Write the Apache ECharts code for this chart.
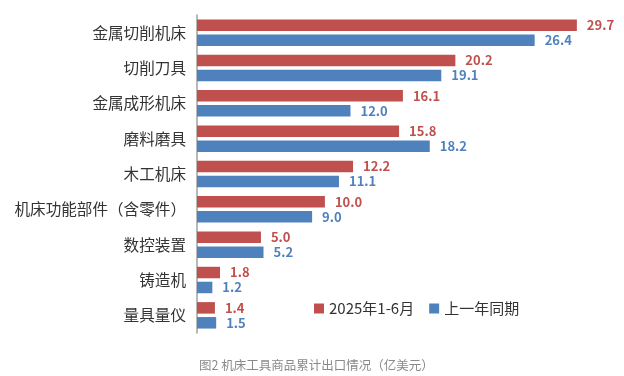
<!DOCTYPE html>
<html><head><meta charset="utf-8">
<script src="https://cdn.jsdelivr.net/npm/echarts@6/dist/echarts.min.js"></script>
<style>html,body{margin:0;padding:0;background:#fff}#c{width:624px;height:376px}</style>
</head><body><div id="c"></div>
<script>
const categories = ['金属切削机床','切削刀具','金属成形机床','磨料磨具','木工机床','机床功能部件（含零件）','数控装置','铸造机','量具量仪'];
const current = [29.7, 20.2, 16.1, 15.8, 12.2, 10.0, 5.0, 1.8, 1.4];
const previous = [26.4, 19.1, 12.0, 18.2, 11.1, 9.0, 5.2, 1.2, 1.5];
const seriesNames = ['2025年1-6月', '上一年同期'];
const caption = '图2 机床工具商品累计出口情况（亿美元）';
const RED = '#C0504D', BLUE = '#4F81BD';
const FONT = '"Noto Sans CJK SC", "Noto Sans", sans-serif';
const chart = echarts.init(document.getElementById('c'));
chart.setOption({
  animation: false,
  textStyle: { fontFamily: FONT },
  title: { text: caption, left: 194, top: 354, textStyle: { fontSize: 12.5, color: '#8a8a8a', fontWeight: 'normal', fontFamily: FONT } },
  legend: { left: 309, top: 296, icon: 'rect', itemWidth: 10, itemHeight: 10, itemGap: 15,
    textStyle: { fontSize: 15, color: '#333', fontFamily: FONT }, data: seriesNames },
  grid: { left: 197, top: 15, width: 383.7, height: 318, containLabel: false },
  xAxis: { type: 'value', min: 0, max: 30, show: false },
  yAxis: { type: 'category', data: categories, inverse: true,
    axisLine: { show: true, lineStyle: { color: '#a0a0a0', width: 1.5 } },
    axisTick: { show: false },
    axisLabel: { fontSize: 15.6, color: '#333', margin: 11, padding: [16, 0, 0, 0], fontFamily: FONT } },
  series: [
    { name: seriesNames[0], type: 'bar', data: current, barWidth: 11.5, barGap: '30%',
      itemStyle: { color: RED },
      label: { show: true, position: 'right', distance: 10, color: RED, fontWeight: 'bold', fontSize: 13,
        fontFamily: FONT, formatter: p => p.value.toFixed(1) } },
    { name: seriesNames[1], type: 'bar', data: previous, barWidth: 11.5, barGap: '30%',
      itemStyle: { color: BLUE },
      label: { show: true, position: 'right', distance: 10, color: BLUE, fontWeight: 'bold', fontSize: 13,
        fontFamily: FONT, formatter: p => p.value.toFixed(1) } }
  ]
});
</script></body></html>
